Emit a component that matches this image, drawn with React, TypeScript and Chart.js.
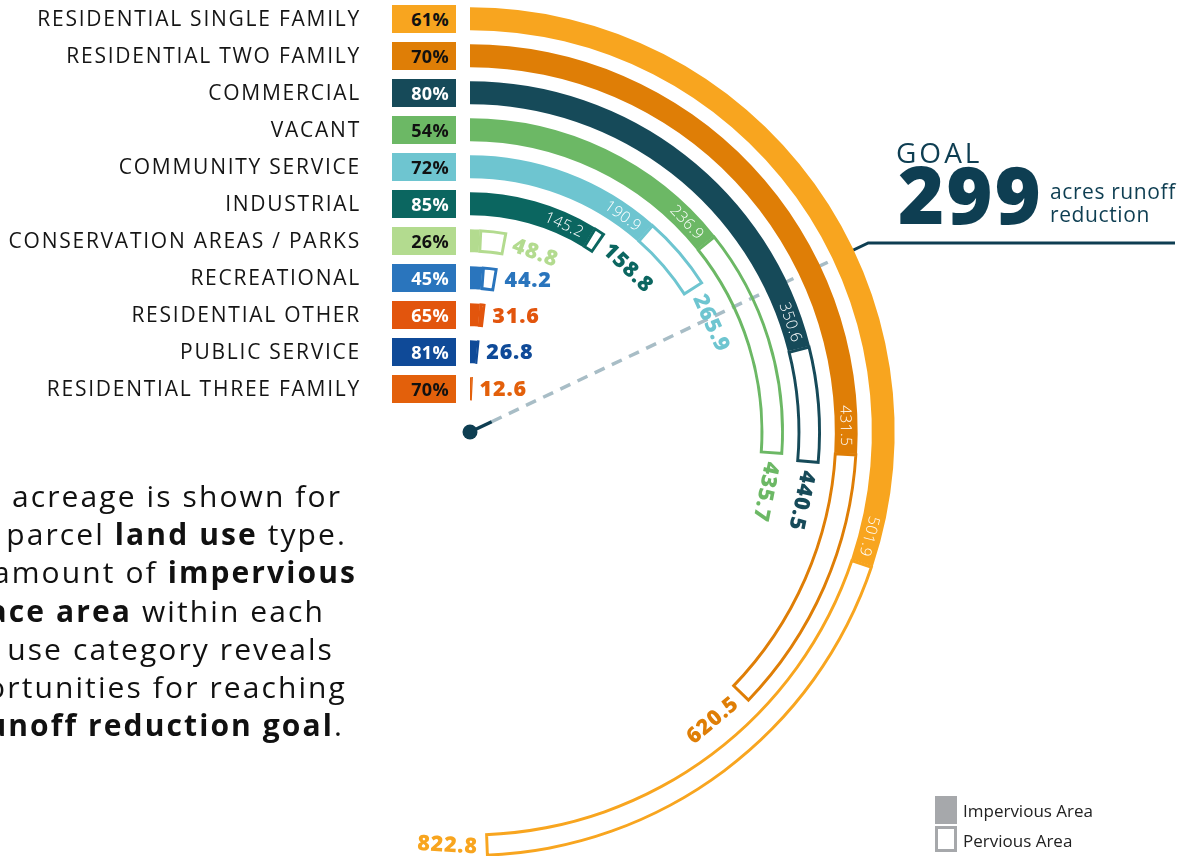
import React, { useEffect, useRef } from "react";
import { Chart, registerables } from "chart.js";

Chart.register(...registerables);

// ---------------- data ----------------
const CATEGORIES = [
  "RESIDENTIAL SINGLE FAMILY",
  "RESIDENTIAL TWO FAMILY",
  "COMMERCIAL",
  "VACANT",
  "COMMUNITY SERVICE",
  "INDUSTRIAL",
  "CONSERVATION AREAS / PARKS",
  "RECREATIONAL",
  "RESIDENTIAL OTHER",
  "PUBLIC SERVICE",
  "RESIDENTIAL THREE FAMILY",
];
const TOTAL_ACRES = [822.8, 620.5, 440.5, 435.7, 265.9, 158.8, 48.8, 44.2, 31.6, 26.8, 12.6];
const IMPERVIOUS_ACRES = [501.9, 431.5, 350.6, 236.9, 190.9, 145.2, 12.7, 19.9, 20.5, 21.7, 8.8];
const IMPERVIOUS_PCT = [61, 70, 80, 54, 72, 85, 26, 45, 65, 81, 70];
const RING_COLORS = [
  "#F8A51F",
  "#DF7E06",
  "#164A59",
  "#6CB865",
  "#6EC5D0",
  "#0B6660",
  "#B3DB8F",
  "#2A75BD",
  "#E2550D",
  "#0F4A98",
  "#E3600B",
];
const PCT_TEXT_COLORS = ["#111", "#111", "#fff", "#111", "#111", "#fff", "#111", "#fff", "#fff", "#fff", "#111"];
const GOAL_ACRES = 299;
const SCALE_MAX_ACRES = 822.8;
const SCALE_MAX_DEG = 177.8;

const PARAGRAPH_LINES: [string, boolean][][] = [
  [["Total acreage is shown for", false]],
  [["each parcel ", false], ["land use", true], [" type.", false]],
  [["The amount of ", false], ["impervious", true]],
  [["surface area", true], [" within each", false]],
  [["land use category reveals", false]],
  [["opportunities for reaching", false]],
  [["the ", false], ["runoff reduction goal", true], [".", false]],
];

// ---------------- layout ----------------
const W = 1196;
const H = 856;
const CANVAS_H = 900;
const CX = 470;
const CY = 432;
const R = 425;
const RING = 23.5;
const GAP = 13.5;
const CUTOUT = R - CATEGORIES.length * RING - (CATEGORIES.length - 1) * GAP;
const PARA_RIGHT = [340, 345, 355, 323, 332, 345, 342];
const PARA_TOP = 477;
const PARA_LH = 38.2;
const RULE_Y = 243;
const RULE_X2 = 1175;
const DARK = "#0E3E52";
const FONT = '"Open Sans", sans-serif';
const DEG = Math.PI / 180;

const FULL = (SCALE_MAX_ACRES * 360) / SCALE_MAX_DEG;
const rowY = (i: number) => CY - (R - i * (RING + GAP) - RING / 2);

function buildDatasets() {
  const ds: any[] = [];
  CATEGORIES.forEach((name, i) => {
    if (i > 0) {
      ds.push({
        label: "",
        data: [1],
        backgroundColor: ["rgba(0,0,0,0)"],
        borderColor: ["rgba(0,0,0,0)"],
        borderWidth: 0,
        borderAlign: "inner",
        weight: GAP,
        isGap: true,
      });
    }
    const imp = IMPERVIOUS_ACRES[i];
    const tot = TOTAL_ACRES[i];
    ds.push({
      label: name,
      data: [imp, tot - imp, FULL - tot],
      backgroundColor: [RING_COLORS[i], "rgba(0,0,0,0)", "rgba(0,0,0,0)"],
      borderColor: [RING_COLORS[i], RING_COLORS[i], "rgba(0,0,0,0)"],
      borderWidth: [0, 2.6, 0],
      borderAlign: "inner",
      weight: RING,
      ringIndex: i,
    });
  });
  return ds;
}

const ringPlugin = {
  id: "ringLabels",
  beforeDatasetsDraw(chart: any) {
    const ctx = chart.ctx as CanvasRenderingContext2D;
    const a0 = chart.getDatasetMeta(0).data[0] as any;
    const cx = a0.x;
    const cy = a0.y;
    const th = ((GOAL_ACRES / SCALE_MAX_ACRES) * SCALE_MAX_DEG) * DEG;
    const sx = Math.sin(th);
    const sy = -Math.cos(th);
    const elbowR = (cy - RULE_Y) / Math.cos(th);
    const pt = (r: number) => [cx + r * sx, cy + r * sy];
    ctx.save();
    ctx.lineCap = "butt";
    ctx.strokeStyle = "#A8BDC6";
    ctx.lineWidth = 3.5;
    ctx.setLineDash([11, 8]);
    let p = pt(24);
    let q = pt(elbowR - 34);
    ctx.beginPath();
    ctx.moveTo(p[0], p[1]);
    ctx.lineTo(q[0], q[1]);
    ctx.stroke();
    ctx.setLineDash([]);
    ctx.strokeStyle = DARK;
    ctx.beginPath();
    ctx.moveTo(cx, cy);
    p = pt(24);
    ctx.lineTo(p[0], p[1]);
    ctx.stroke();
    ctx.lineWidth = 3;
    q = pt(elbowR - 34);
    const e = pt(elbowR);
    ctx.beginPath();
    ctx.moveTo(q[0], q[1]);
    ctx.lineTo(e[0], e[1]);
    ctx.lineTo(RULE_X2, e[1]);
    ctx.stroke();
    ctx.fillStyle = DARK;
    ctx.beginPath();
    ctx.arc(cx, cy, 7.5, 0, Math.PI * 2);
    ctx.fill();
    ctx.restore();
  },
  afterDatasetsDraw(chart: any) {
    const ctx = chart.ctx as CanvasRenderingContext2D;
    chart.data.datasets.forEach((ds: any, d: number) => {
      if (ds.isGap) return;
      const i = ds.ringIndex;
      const meta = chart.getDatasetMeta(d);
      const imp = meta.data[0] as any;
      const per = meta.data[1] as any;
      const cx = imp.x;
      const cy = imp.y;
      const rc = (imp.innerRadius + imp.outerRadius) / 2;
      ctx.save();
      ctx.font = `300 15.5px ${FONT}`;
      (ctx as any).letterSpacing = "0.4px";
      const it = IMPERVIOUS_ACRES[i].toFixed(1);
      const iw = ctx.measureText(it).width;
      const impLen = (imp.endAngle - imp.startAngle) * rc;
      if (impLen > iw + 24) {
        const thEnd = imp.endAngle + Math.PI / 2;
        const phi = thEnd - (7 + iw / 2) / rc;
        ctx.save();
        ctx.translate(cx + rc * Math.sin(phi), cy - rc * Math.cos(phi));
        ctx.rotate(phi);
        ctx.fillStyle = "#fff";
        ctx.textAlign = "center";
        ctx.textBaseline = "middle";
        ctx.fillText(it, 0, 1);
        ctx.restore();
      }
      ctx.font = `800 21.5px ${FONT}`;
      (ctx as any).letterSpacing = "0.8px";
      ctx.fillStyle = RING_COLORS[i];
      const tt = TOTAL_ACRES[i].toFixed(1);
      const tw = ctx.measureText(tt).width;
      const thEnd = per.endAngle + Math.PI / 2;
      if (thEnd < 10 * DEG) {
        ctx.textAlign = "left";
        ctx.textBaseline = "middle";
        ctx.fillText(tt, cx + per.outerRadius * Math.sin(thEnd) + 7, cy - rc * Math.cos(thEnd) + 1);
      } else {
        const phi = thEnd + (8 + tw / 2) / rc;
        let rot = phi;
        if (phi > 120 * DEG) rot = phi - Math.PI;
        ctx.translate(cx + rc * Math.sin(phi), cy - rc * Math.cos(phi));
        ctx.rotate(rot);
        ctx.textAlign = "center";
        ctx.textBaseline = "middle";
        ctx.fillText(tt, 0, 1);
      }
      ctx.restore();
    });
  },
};

export default function App() {
  const ref = useRef<HTMLCanvasElement>(null);
  useEffect(() => {
    const chart = new Chart(ref.current as HTMLCanvasElement, {
      type: "doughnut",
      data: {
        labels: ["Impervious Area", "Pervious Area", ""],
        datasets: buildDatasets(),
      },
      options: {
        responsive: false,
        animation: false,
        devicePixelRatio: 1,
        events: [],
        cutout: CUTOUT,
        rotation: 0,
        circumference: 360,
        layout: {
          padding: {
            left: CX - R,
            top: CY - R,
            right: W - (CX + R),
            bottom: CANVAS_H - (CY + R),
          },
        },
        plugins: {
          legend: { display: false },
          tooltip: { enabled: false },
          title: { display: false },
        },
      } as any,
      plugins: [ringPlugin as any],
    });
    return () => chart.destroy();
  }, []);

  return (
    <div
      style={{
        position: "absolute",
        left: 0,
        top: 0,
        width: W,
        height: H,
        overflow: "hidden",
        background: "#fff",
        fontFamily: FONT,
        color: "#111",
      }}
    >
      <canvas
        ref={ref}
        width={W}
        height={CANVAS_H}
        style={{ position: "absolute", left: 0, top: 0, width: W, height: CANVAS_H }}
      />
      {CATEGORIES.map((c, i) => (
        <div
          key={c}
          style={{
            position: "absolute",
            right: W - 361,
            top: rowY(i) - 15,
            height: 28,
            lineHeight: "28px",
            fontSize: 21,
            letterSpacing: 1.75,
            whiteSpace: "nowrap",
            color: "#151515",
          }}
        >
          {c}
        </div>
      ))}
      {IMPERVIOUS_PCT.map((p, i) => (
        <div
          key={"p" + i}
          style={{
            position: "absolute",
            left: 392,
            top: rowY(i) - 14,
            width: 64,
            height: 28,
            lineHeight: "28px",
            background: RING_COLORS[i],
            color: PCT_TEXT_COLORS[i],
            fontSize: 18,
            fontWeight: 700,
            letterSpacing: 0.3,
            textAlign: "right",
            paddingRight: 7,
            boxSizing: "border-box",
          }}
        >
          {p}%
        </div>
      ))}
      {PARAGRAPH_LINES.map((line, k) => (
        <div
          key={"l" + k}
          style={{
            position: "absolute",
            right: W - PARA_RIGHT[k] - 2,
            top: PARA_TOP + k * PARA_LH,
            height: 38,
            lineHeight: "38px",
            fontSize: 30,
            letterSpacing: 2.1,
            whiteSpace: "nowrap",
            color: "#111",
          }}
        >
          {line.map(([t, b], j) => (
            <span key={j} style={{ fontWeight: b ? 700 : 400 }}>
              {t}
            </span>
          ))}
        </div>
      ))}
      <div
        style={{
          position: "absolute",
          left: 896,
          top: 132,
          fontSize: 28,
          lineHeight: "40px",
          letterSpacing: 3,
          color: DARK,
        }}
      >
        GOAL
      </div>
      <div
        style={{
          position: "absolute",
          left: 898,
          top: 147,
          fontSize: 79,
          lineHeight: "94px",
          fontWeight: 800,
          letterSpacing: 2,
          color: DARK,
        }}
      >
        299
      </div>
      <div
        style={{
          position: "absolute",
          left: 1050,
          top: 180,
          fontSize: 21,
          lineHeight: "23px",
          letterSpacing: 0.6,
          color: DARK,
          whiteSpace: "nowrap",
        }}
      >
        acres runoff
        <br />
        reduction
      </div>
      <div
        style={{
          position: "absolute",
          left: 935,
          top: 796,
          width: 22,
          height: 28,
          background: "#A6A8AB",
        }}
      />
      <div
        style={{
          position: "absolute",
          left: 935,
          top: 826,
          width: 22,
          height: 26,
          border: "3.5px solid #A6A8AB",
          boxSizing: "border-box",
        }}
      />
      <div style={{ position: "absolute", left: 963, top: 799, fontSize: 17, lineHeight: "24px", color: "#222" }}>
        Impervious Area
      </div>
      <div style={{ position: "absolute", left: 963, top: 829, fontSize: 17, lineHeight: "24px", color: "#222" }}>
        Pervious Area
      </div>
    </div>
  );
}
